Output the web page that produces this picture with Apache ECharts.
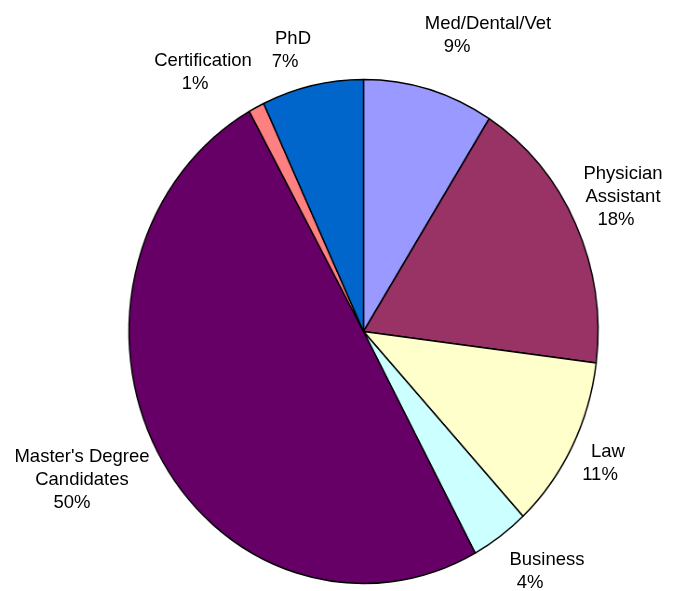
<!DOCTYPE html>
<html>
<head>
<meta charset="utf-8">
<script src="https://cdn.jsdelivr.net/npm/echarts@6/dist/echarts.min.js"></script>
<style>
  html, body { margin: 0; padding: 0; background: #ffffff; }
  #wrap { position: relative; width: 674px; height: 591px; overflow: hidden; background: #fff; }
  #pie { position: absolute; left: 0; top: 0; width: 674px; height: 591px;
         transform: scaleX(0.9306); transform-origin: 363.5px 0; }
  #labels { position: absolute; left: 0; top: 0; width: 674px; height: 591px; }
</style>
</head>
<body>
<div id="wrap">
  <div id="pie"></div>
  <div id="labels"></div>
</div>
<script>
// ---- data ----
const categories = ["Med/Dental/Vet", "Physician\nAssistant", "Law", "Business",
                    "Master's Degree\nCandidates", "Certification", "PhD"];
const values = [9.0, 18.0, 11.1, 4.0, 49.8, 1.1, 7.0];
const colors = ["#9999FF", "#993366", "#FFFFCC", "#CCFFFF", "#660066", "#FF8080", "#0066CC"];

// ---- label layout (text block anchor: x = first line centre, y = block middle) ----
const labelAnchor = [[488, 35], [623, 197], [608, 463], [547, 571], [82, 480], [203, 72], [293, 50]];
const pctShift = [31, 7, 8, 17, 10, 8, 8];

const CX = 363.5, CY = 331.5, R = 252;

const seriesData = categories.map((c, i) => ({ name: c, value: values[i], itemStyle: { color: colors[i] } }));

const pieChart = echarts.init(document.getElementById('pie'), null, { renderer: 'canvas' });
pieChart.setOption({
  animation: false,
  backgroundColor: 'transparent',
  series: [{
    type: 'pie',
    center: [CX, CY],
    radius: R,
    startAngle: 90,
    clockwise: true,
    silent: true,
    label: { show: false },
    labelLine: { show: false },
    itemStyle: { borderColor: '#000000', borderWidth: 1.5 },
    emphasis: { disabled: true },
    data: seriesData
  }]
});

const FONT = "'Liberation Sans', Arial, sans-serif";
const rich = {};
pctShift.forEach((s, i) => {
  rich['p' + i] = { fontFamily: FONT, fontSize: 18.5, color: '#000', padding: [0, 2 * s, 0, 0], lineHeight: 23 };
});

const labelChart = echarts.init(document.getElementById('labels'), null, { renderer: 'canvas' });
labelChart.setOption({
  animation: false,
  backgroundColor: 'transparent',
  series: [{
    type: 'pie',
    center: [CX, CY],
    radius: R,
    startAngle: 90,
    clockwise: true,
    silent: true,
    percentPrecision: 0,
    itemStyle: { color: 'rgba(0,0,0,0)', borderWidth: 0 },
    label: {
      show: true,
      position: 'outside',
      overflow: 'none',
      fontFamily: FONT,
      fontSize: 18.5,
      color: '#000',
      lineHeight: 23,
      align: 'center',
      formatter: p => p.name + '\n{p' + p.dataIndex + '|' + p.percent + '%}',
      rich: rich
    },
    labelLine: { show: false },
    labelLayout: p => ({
      x: labelAnchor[p.dataIndex][0],
      y: labelAnchor[p.dataIndex][1],
      align: 'center',
      verticalAlign: 'middle',
      hideOverlap: false
    }),
    emphasis: { disabled: true },
    data: categories.map((c, i) => ({ name: c, value: values[i] }))
  }]
});
</script>
</body>
</html>
